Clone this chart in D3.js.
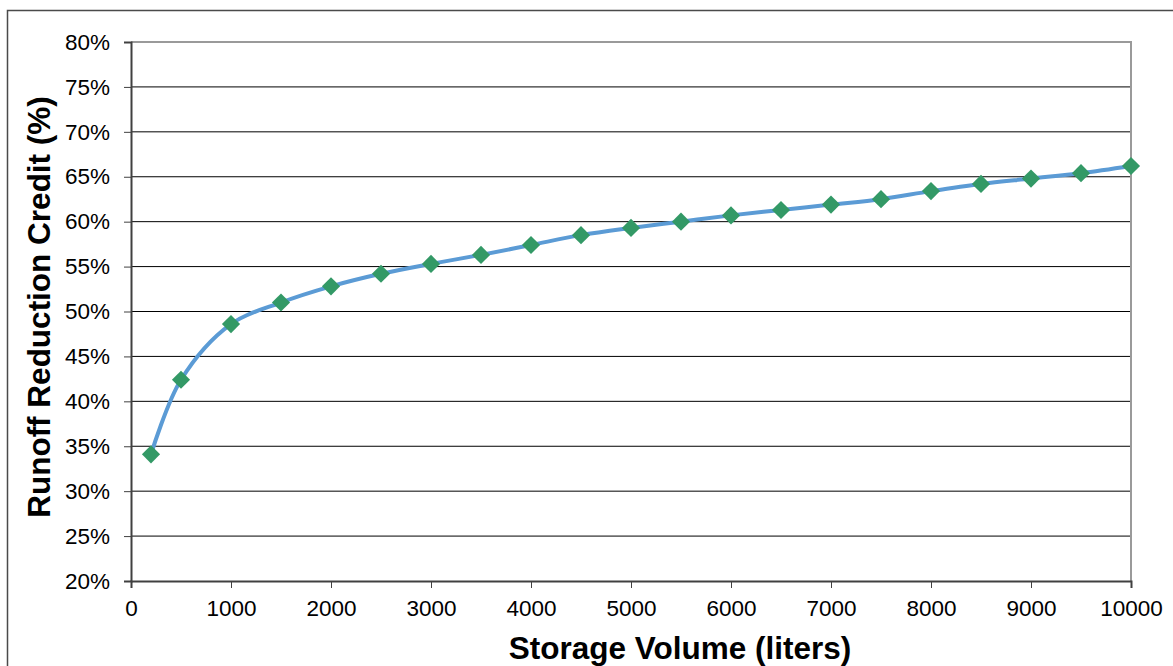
<!DOCTYPE html>
<html>
<head>
<meta charset="utf-8">
<script src="https://cdn.jsdelivr.net/npm/d3@7"></script>
<style>
  body { margin: 0; background: #fff; }
  text { font-family: "Liberation Sans", Arial, sans-serif; }
</style>
</head>
<body>
<div id="chart"></div>
<script>
// storage volume (liters) and runoff reduction credit (%)
const volumes = [200, 500, 1000, 1500, 2000, 2500, 3000, 3500, 4000, 4500, 5000,
                 5500, 6000, 6500, 7000, 7500, 8000, 8500, 9000, 9500, 10000];
const credits = [34.1, 42.4, 48.6, 51.0, 52.8, 54.2, 55.3, 56.3, 57.4, 58.5, 59.3,
                 60.0, 60.7, 61.3, 61.9, 62.5, 63.4, 64.2, 64.8, 65.4, 66.2];
const xTicks = [0, 1000, 2000, 3000, 4000, 5000, 6000, 7000, 8000, 9000, 10000];
const yTicks = [20, 25, 30, 35, 40, 45, 50, 55, 60, 65, 70, 75, 80];

const svgWidth = 1173, svgHeight = 666;
const plotLeft = 131, plotRight = 1131, plotTop = 42, plotBottom = 581;

let svg = d3.select("#chart")
    .append("svg")
    .attr("width", svgWidth)
    .attr("height", svgHeight);

// outer chart border
svg.append("rect")
    .attr("x", 7.5).attr("y", 10.5)
    .attr("width", 1200).attr("height", 700)
    .attr("fill", "none")
    .attr("stroke", "#4a4a4a")
    .attr("stroke-width", 1.5);

let x = d3.scaleLinear().domain([0, 10000]).range([plotLeft, plotRight]);
let y = d3.scaleLinear().domain([20, 80]).range([plotBottom, plotTop]);

// gridlines
svg.append("g")
    .selectAll("line")
    .data(yTicks.filter(d => d > 20 && d < 80))
    .enter()
    .append("line")
    .attr("x1", plotLeft).attr("x2", plotRight)
    .attr("y1", d => y(d)).attr("y2", d => y(d))
    .attr("stroke", "#000")
    .attr("stroke-width", 1);

// plot area border (top and right, grey)
svg.append("path")
    .attr("d", `M${plotLeft},${y(80)}H${plotRight}V${plotBottom}`)
    .attr("fill", "none")
    .attr("stroke", "#9a9a9a")
    .attr("stroke-width", 2);

// y axis
let yAxis = d3.axisLeft(y)
    .tickValues(yTicks)
    .tickSize(7)
    .tickPadding(14)
    .tickFormat(d => d + "%");
let gy = svg.append("g")
    .attr("transform", `translate(${plotLeft},0)`)
    .call(yAxis);
gy.select(".domain").attr("stroke", "#404040").attr("stroke-width", 2);
gy.selectAll(".tick line").attr("stroke", "#404040");
gy.selectAll("text").attr("font-size", 22.5).attr("fill", "#000");

// x axis
let xAxis = d3.axisBottom(x)
    .tickValues(xTicks)
    .tickSize(7)
    .tickPadding(12)
    .tickFormat(d3.format("d"));
let gx = svg.append("g")
    .attr("transform", `translate(0,${plotBottom})`)
    .call(xAxis);
gx.select(".domain").attr("stroke", "#404040").attr("stroke-width", 2);
gx.selectAll(".tick line").attr("stroke", "#404040");
gx.selectAll("text").attr("font-size", 22.5).attr("fill", "#000");

// series
let points = volumes.map((v, i) => [v, credits[i]]);
let line = d3.line()
    .x(d => x(d[0]))
    .y(d => y(d[1]))
    .curve(d3.curveCatmullRom.alpha(0.5));
svg.append("path")
    .datum(points)
    .attr("d", line)
    .attr("fill", "none")
    .attr("stroke", "#5b9bd5")
    .attr("stroke-width", 4);

svg.append("g")
    .selectAll("path")
    .data(points)
    .enter()
    .append("path")
    .attr("d", d3.symbol().type(d3.symbolSquare).size(165))
    .attr("transform", d => `translate(${x(d[0])},${y(d[1])}) rotate(45)`)
    .attr("fill", "#339966");

// axis titles
svg.append("text")
    .attr("x", 680)
    .attr("y", 659)
    .attr("text-anchor", "middle")
    .attr("font-size", 31.5)
    .attr("font-weight", "bold")
    .text("Storage Volume (liters)");

svg.append("text")
    .attr("transform", `translate(50,307) rotate(-90)`)
    .attr("text-anchor", "middle")
    .attr("font-size", 31.5)
    .attr("font-weight", "bold")
    .text("Runoff Reduction Credit (%)");
</script>
</body>
</html>
